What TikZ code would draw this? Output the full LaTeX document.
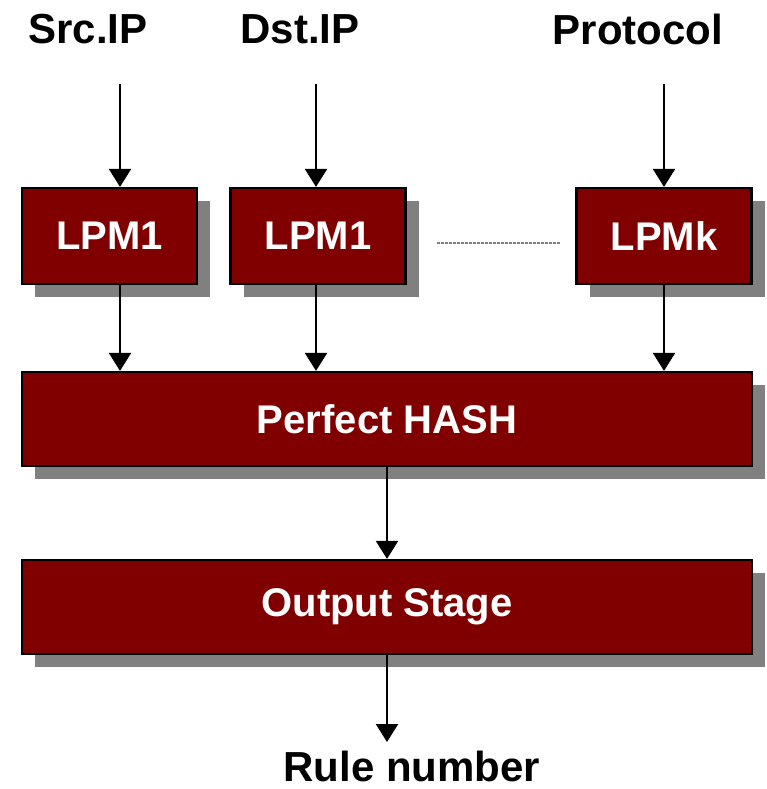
\documentclass[tikz,border=0pt]{standalone}
\usepackage{fontspec}
\setmainfont{Liberation Sans}
\usetikzlibrary{arrows.meta,shadows}
\definecolor{boxred}{HTML}{800000}
\definecolor{shadowgray}{HTML}{808080}
\begin{document}
\begin{tikzpicture}[x=1pt,y=-1pt,
  stage/.style={draw=black,line width=2.2pt,fill=boxred,text=white,
    font=\fontsize{40}{44}\selectfont\bfseries,inner sep=0pt,
    drop shadow={shadow xshift=13pt,shadow yshift=-13pt,fill=shadowgray,opacity=1}},
  lpm/.style={stage,minimum width=175pt,minimum height=96pt},
  wide/.style={stage,minimum width=730pt,minimum height=94pt},
  label/.style={font=\fontsize{42}{46}\selectfont\bfseries,inner sep=0pt},
  flow/.style={line width=2.2pt,-{Triangle[width=22pt,length=18pt]}}]
  \useasboundingbox (0,0) rectangle (767,789);

  % input field labels
  \node[label] (src) at (88,29) {Src.IP};
  \node[label] (dst) at (300,29) {Dst.IP};
  \node[label] (proto) at (638,29) {Protocol};

  % lookup stages
  \node[lpm] (a) at (109.5,236) {LPM1};
  \node[lpm] (b) at (318,236) {LPM1};
  \node[lpm] (k) at (664,236) {LPMk};
  \draw[shadowgray,line width=2.5pt,dash pattern=on 3pt off 1pt] (437,243) coordinate (d1) -- (560,243) coordinate (d2);

  % combining stages
  \node[wide] (hash) at (387,419) {Perfect HASH};
  \node[wide] (out) at (387,607) {Output Stage};
  \node[label] (rule) at (412,766) {Rule number};

  % connector start points
  \coordinate (ia) at (120,84);
  \coordinate (ib) at (316,84);
  \coordinate (ik) at (664,84);
  \coordinate (res) at (387,742);

  \draw[flow] (ia) -- (ia |- a.north);
  \draw[flow] (ib) -- (ib |- b.north);
  \draw[flow] (ik) -- (ik |- k.north);
  \draw[flow] (ia |- a.south) -- (ia |- hash.north);
  \draw[flow] (ib |- b.south) -- (ib |- hash.north);
  \draw[flow] (ik |- k.south) -- (ik |- hash.north);
  \draw[flow] (hash.south) -- (out.north);
  \draw[flow] (out.south) -- (res);
\end{tikzpicture}
\end{document}
